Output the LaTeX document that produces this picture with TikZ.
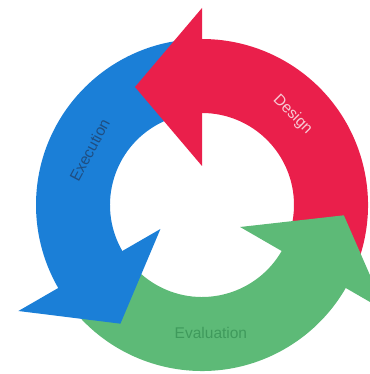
\documentclass[tikz,border=0pt]{standalone}
\usepackage{fontspec}
\setmainfont{Liberation Sans}
\usetikzlibrary{calc}
\definecolor{cred}{HTML}{EA1F4B}
\definecolor{cblue}{HTML}{1B7FD7}
\definecolor{cgreen}{HTML}{5DBA77}
\definecolor{tred}{HTML}{F7C9D3}
\definecolor{tblue}{HTML}{1F4E82}
\definecolor{tgreen}{HTML}{3F9A5C}
\tikzset{
  lbl/.style={font=\fontsize{15.5}{18}\selectfont, inner sep=0pt},
}
\newcommand{\bodyarc}[3]{%
  \fill[#3] (#1:166) arc[start angle=#1,end angle=#2,radius=166]
    -- (#2:92) arc[start angle=#2,end angle=#1,radius=92] -- cycle;}
% angle, inner radius, outer radius, height, colour
\newcommand{\headtri}[5]{%
  \fill[#5] (#1:#2) -- (#1:#3) -- ($(#1:{(#2+#3)/2})+(#1+90:#4)$) -- cycle;}
\begin{document}
\begin{tikzpicture}[x=1pt,y=1pt]
\useasboundingbox (0,0) rectangle (369,374);
\coordinate (C) at (202,169);
\begin{scope}[shift={(C)}]
  % bodies
  \bodyarc{331}{450}{cred}
  \bodyarc{91}{211}{cblue}
  \bodyarc{211}{331}{cgreen}
  % heads
  \headtri{90}{39}{197}{67}{cred}
  \headtri{210}{48}{212}{62}{cblue}
  \headtri{330}{44}{212}{62}{cgreen}
  % labels
  \node[lbl, text=tred, rotate=-45] (design) at (45:128) {Design};
  \node[lbl, text=tblue, rotate=62] (execution) at (154:125) {Execution};
  \node[lbl, text=tgreen] (evaluation) at (274:128) {Evaluation};
\end{scope}
\end{tikzpicture}
\end{document}
